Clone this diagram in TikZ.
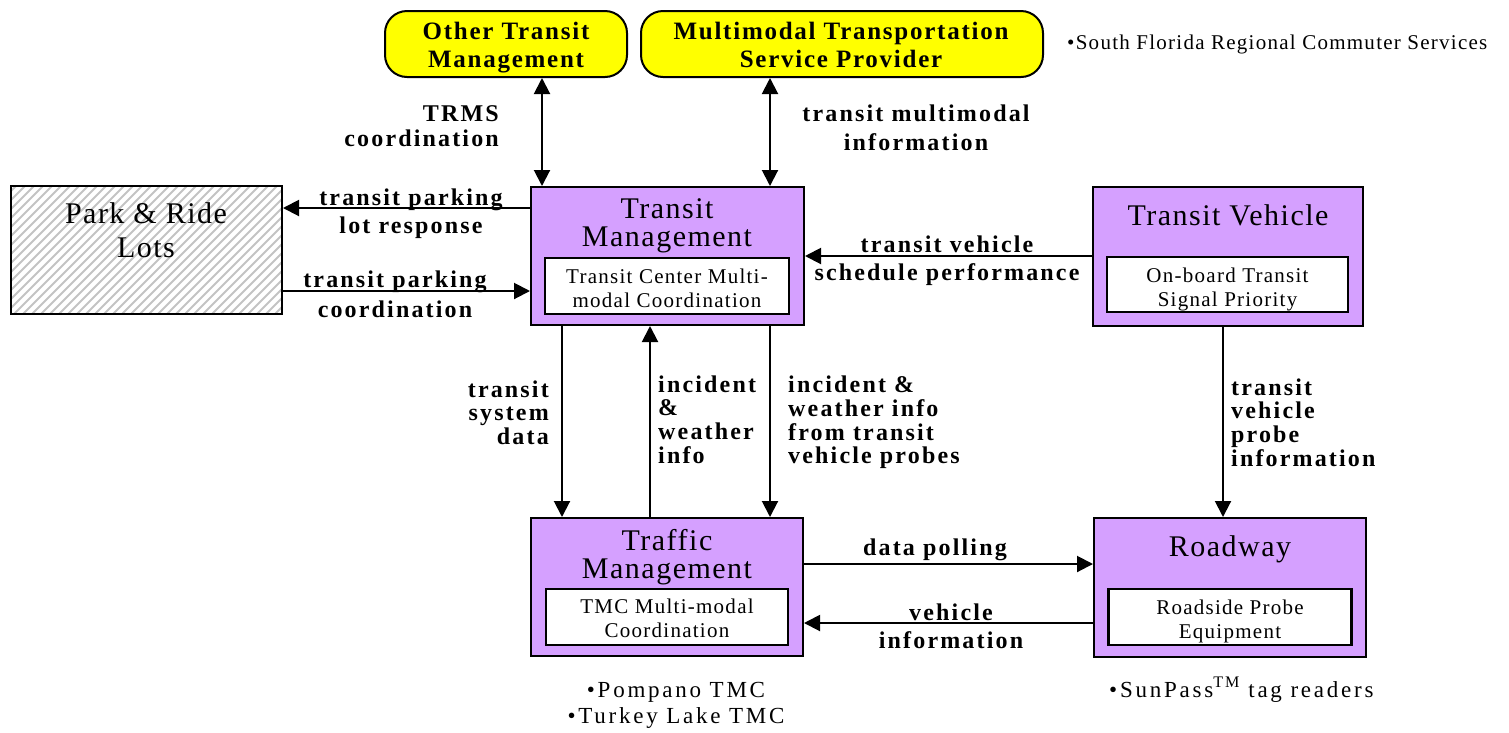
\documentclass[tikz,border=0pt]{standalone}
\usepackage{fontspec}
\setmainfont{Liberation Serif}
\newfontfamily\ttlfont{Liberation Serif}[LetterSpace=5]
\newfontfamily\innfont{Liberation Serif}[LetterSpace=6]
\newfontfamily\lblfont{Liberation Serif}[LetterSpace=9]
\newfontfamily\yelfont{Liberation Serif}[LetterSpace=7]
\newfontfamily\notefont{Liberation Serif}[LetterSpace=12]
\newfontfamily\sfrfont{Liberation Serif}[LetterSpace=6]
\usetikzlibrary{arrows.meta}
\definecolor{purp}{RGB}{213,160,255}
\definecolor{yel}{RGB}{255,255,0}
\definecolor{hatchgray}{RGB}{195,195,195}
\newcommand\Lines[2]{\begin{tabular}[t]{@{}#1@{}}#2\end{tabular}}
\tikzset{
  mbox/.style={draw, line width=2pt, fill=purp, inner sep=0pt},
  ibox/.style={draw, line width=2.5pt, fill=white, inner sep=0pt},
  itxt/.style={inner sep=0pt, font=\innfont\fontsize{21}{24.5}\selectfont},
  ybox/.style={draw, line width=2pt, fill=yel, rounded corners=22pt, inner sep=0pt},
  ttl/.style={inner sep=0pt, font=\ttlfont\fontsize{30}{28}\selectfont},
  ytxt/.style={inner sep=0pt, font=\yelfont\bfseries\fontsize{25}{28}\selectfont},
  lbl/.style={inner sep=0pt, font=\lblfont\bfseries\fontsize{24}{#1}\selectfont},
  lbl/.default=23.7,
  note/.style={inner sep=0pt, font=\notefont\fontsize{23}{26}\selectfont},
  tip/.tip={Triangle[length=16pt,width=16pt]},
  arr/.style={line width=2pt, -tip},
  dbl/.style={line width=2pt, tip-tip},
  hatchline/.style={draw=hatchgray, line width=2pt}
}
\begin{document}
\begin{tikzpicture}[x=1pt,y=-1pt]
\useasboundingbox (0,0) rectangle (1509,732);

% main boxes
\node[mbox, minimum width=273pt, minimum height=138pt] (tm) at (667.5,256) {};
\node[mbox, minimum width=270pt, minimum height=139pt] (tv) at (1228,256.5) {};
\node[mbox, minimum width=272pt, minimum height=138pt] (trf) at (667,587) {};
\node[mbox, minimum width=272pt, minimum height=139pt] (rdw) at (1230,587.5) {};

% inner boxes
\node[ibox, minimum width=244pt, minimum height=56pt] (tmi) at (667,286) {};
\node[ibox, minimum width=241pt, minimum height=55pt] (tvi) at (1227.5,284.5) {};
\node[ibox, minimum width=242pt, minimum height=56pt] (trfi) at (667,617) {};
\node[ibox, minimum width=243pt, minimum height=56pt] (rdwi) at (1230,617) {};
\node[itxt, anchor=base] (tmit) at (667,283) {\Lines{c}{Transit Center Multi-\\modal Coordination}};
\node[itxt, anchor=base] (tvit) at (1227.5,282) {\Lines{c}{On-board Transit\\Signal Priority}};
\node[itxt, anchor=base] (trfit) at (667,613) {\Lines{c}{TMC Multi-modal\\Coordination}};
\node[itxt, anchor=base] (rdwit) at (1230,614) {\Lines{c}{Roadside Probe\\Equipment}};

% titles
\node[ttl, anchor=base] (tmt) at (667,218) {\Lines{c}{Transit\\Management}};
\node[ttl, anchor=base] (tvt) at (1228,225) {Transit Vehicle};
\node[ttl, anchor=base] (trft) at (667,550) {\Lines{c}{Traffic\\Management}};
\node[ttl, anchor=base] (rdwt) at (1230,556) {Roadway};

% park & ride
\node[draw, line width=2pt, inner sep=0pt, minimum width=271pt, minimum height=128pt,
  path picture={
    \foreach \i in {-150,-141,...,300}
      \draw[hatchline] ([xshift=\i pt]path picture bounding box.south west) -- ++(150,-150);
  }] (pr) at (146.5,250) {};
\node[inner sep=0pt, font=\ttlfont\fontsize{30}{34}\selectfont, anchor=base] (prt) at (146,223) {\Lines{c}{Park \& Ride\\Lots}};

% yellow boxes
\node[ybox, minimum width=242pt, minimum height=66pt] (oth) at (506,44) {};
\node[ytxt, anchor=base] (otht) at (506,39) {\Lines{c}{Other Transit\\Management}};
\node[ybox, minimum width=402pt, minimum height=66pt] (mtsp) at (842,44) {};
\node[ytxt, anchor=base] (mtspt) at (841,39) {\Lines{c}{Multimodal Transportation\\Service Provider}};

% notes
\node[inner sep=0pt, font=\sfrfont\fontsize{21}{24}\selectfont, anchor=base west] (sfr) at (1067,49) {•South Florida Regional Commuter Services};
\node[note, anchor=base] (pomp) at (676,697) {\Lines{c}{•Pompano TMC\\•Turkey Lake TMC}};
\node[note, anchor=base west] (sunp) at (1109,697) {•SunPass\textsuperscript{TM} tag readers};

% helper levels
\coordinate (x1) at (542,0);
\coordinate (x2) at (770,0);
\coordinate (x3) at (562,0);
\coordinate (x4) at (650,0);
\coordinate (x5) at (1223,0);
\coordinate (y1) at (0,208);
\coordinate (y2) at (0,291);
\coordinate (y3) at (0,256);
\coordinate (y4) at (0,564);
\coordinate (y5) at (0,623);

% connectors
\draw[dbl] (oth.south -| x1) -- (tm.north -| x1);
\draw[dbl] (mtsp.south -| x2) -- (tm.north -| x2);
\draw[arr] (tm.west |- y1) -- (pr.east |- y1);
\draw[arr] (pr.east |- y2) -- (tm.west |- y2);
\draw[arr] (tv.west |- y3) -- (tm.east |- y3);
\draw[arr] (tm.south -| x3) -- (trf.north -| x3);
\draw[arr] (trf.north -| x4) -- (tm.south -| x4);
\draw[arr] (tm.south -| x2) -- (trf.north -| x2);
\draw[arr] (tv.south -| x5) -- (rdw.north -| x5);
\draw[arr] (trf.east |- y4) -- (rdw.west |- y4);
\draw[arr] (rdw.west |- y5) -- (trf.east |- y5);

% connector labels
\node[lbl=25, anchor=base east] (l1) at (499,121) {\Lines{r}{TRMS\\coordination}};
\node[lbl=29, anchor=base] (l2) at (916,121) {\Lines{c}{transit multimodal\\information}};
\node[lbl=28, anchor=base] (l3) at (411,205) {\Lines{c}{transit parking\\lot response}};
\node[lbl=30, anchor=base] (l4) at (395,287) {\Lines{c}{transit parking\\coordination}};
\node[lbl=28, anchor=base] (l5) at (947,252) {\Lines{c}{transit vehicle\\schedule performance}};
\node[lbl, anchor=base east] (l6) at (549,397) {\Lines{r}{transit\\system\\data}};
\node[lbl, anchor=base west] (l7) at (658,392) {\Lines{l}{incident\\\&\\weather\\info}};
\node[lbl, anchor=base west] (l8) at (788,392) {\Lines{l}{incident \&\\weather info\\from transit\\vehicle probes}};
\node[lbl, anchor=base west] (l9) at (1231,395) {\Lines{l}{transit\\vehicle\\probe\\information}};
\node[lbl, anchor=base] (l10) at (935,555) {data polling};
\node[lbl=28, anchor=base] (l11) at (951,620) {\Lines{c}{vehicle\\information}};
\end{tikzpicture}
\end{document}
